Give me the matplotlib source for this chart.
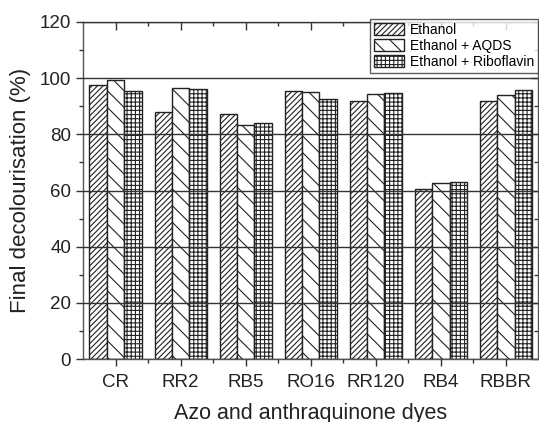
import matplotlib
matplotlib.use("Agg")
import matplotlib.pyplot as plt
import numpy as np
from matplotlib.ticker import MultipleLocator, FixedLocator, NullFormatter

categories = ["CR", "RR2", "RB5", "RO16", "RR120", "RB4", "RBBR"]
ethanol = [97.4, 87.8, 87.2, 95.5, 91.7, 60.7, 91.7]
ethanol_aqds = [99.3, 96.4, 83.4, 95.0, 94.3, 62.7, 94.1]
ethanol_ribo = [95.5, 96.2, 84.2, 92.4, 94.8, 63.1, 95.7]
series_names = ["Ethanol", "Ethanol + AQDS", "Ethanol + Riboflavin"]

plt.rcParams['font.family'] = ['Liberation Sans', 'DejaVu Sans']
plt.rcParams['hatch.linewidth'] = 0.8
plt.rcParams['hatch.color'] = '#222222'

fig = plt.figure(figsize=(5.39, 4.22), dpi=100)
ax = fig.add_axes([0.154, 0.149, 0.845, 0.799])

x = np.arange(1, len(categories) + 1)
w = 0.267
hatches = ['//////', '\\\\', '++++']
for i, (vals, h, name) in enumerate(zip([ethanol, ethanol_aqds, ethanol_ribo], hatches, series_names)):
    ax.bar(x + (i - 1) * w, vals, width=w, facecolor='white', edgecolor='#222222',
           hatch=h, linewidth=1.0, label=name, zorder=2)

ax.set_xlim(0.5, 7.5)
ax.set_ylim(0, 120)
ax.set_xticks(x)
ax.set_xticklabels(categories, fontsize=13.5)
ax.xaxis.set_minor_locator(FixedLocator(np.arange(1.5, 7.5, 1.0)))
ax.yaxis.set_major_locator(MultipleLocator(20))
ax.yaxis.set_minor_locator(MultipleLocator(10))
ax.tick_params(axis='y', labelsize=13.5, direction='out', length=5, width=1, color='#333333', labelcolor='#222222')
ax.tick_params(axis='x', direction='out', length=5, width=1, color='#333333', labelcolor='#222222', pad=6)
ax.tick_params(which='minor', direction='out', length=3, width=1, color='#333333')

# top and right: inward ticks, no labels
top = ax.secondary_xaxis('top')
top.set_xticks(x)
top.xaxis.set_minor_locator(FixedLocator(np.arange(1.5, 7.5, 1.0)))
top.tick_params(which='major', direction='in', length=6, width=1, color='#333333', labeltop=False)
top.tick_params(which='minor', direction='in', length=3, width=1, color='#333333')
top.xaxis.set_major_formatter(NullFormatter())
right = ax.secondary_yaxis('right')
right.yaxis.set_major_locator(MultipleLocator(20))
right.yaxis.set_minor_locator(MultipleLocator(10))
right.tick_params(which='major', direction='in', length=5, width=1, color='#333333', labelright=False)
right.tick_params(which='minor', direction='in', length=3, width=1, color='#333333')
right.yaxis.set_major_formatter(NullFormatter())
for sa in (top, right):
    for s in sa.spines.values():
        s.set_visible(False)

ax.grid(axis='y', which='major', color='#333333', linewidth=1.0, zorder=3)
ax.set_axisbelow(False)
for s in ax.spines.values():
    s.set_color('#555555')
    s.set_linewidth(1.0)

ax.set_ylabel("Final decolourisation (%)", fontsize=16, color='#222222', labelpad=6)
ax.set_xlabel("Azo and anthraquinone dyes", fontsize=15.5, color='#222222', labelpad=8)

leg = ax.legend(loc='upper right', fontsize=10, frameon=True, fancybox=False,
                borderaxespad=0.0, handlelength=2.2, handleheight=0.9,
                labelspacing=0.15, borderpad=0.3, handletextpad=0.4,
                bbox_to_anchor=(1.0, 1.01))
leg.get_frame().set_edgecolor('#333333')
leg.get_frame().set_linewidth(1.0)
leg.set_zorder(5)

fig.savefig("out.png", dpi=100)
